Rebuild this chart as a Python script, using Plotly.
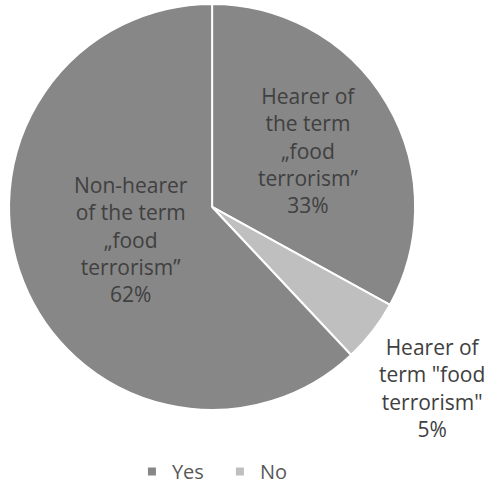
import math
import plotly.graph_objects as go

# Survey answers: who has heard the term "food terrorism"
labels = [
    "Hearer of<br>the term<br>\u201efood<br>terrorism\u201d",
    "Hearer of<br>term \"food<br>terrorism\"",
    "Non-hearer<br>of the term<br>\u201efood<br>terrorism\u201d",
]
values = [33, 5, 62]
groups = ["Yes", "No", "Yes"]
legend_items = ["Yes", "No"]

# where each slice's label goes: distance from centre as a share of the
# radius (None = just outside the rim)
label_radius = [0.55, None, 0.43]

group_colors = {"Yes": "#878787", "No": "#bfbfbf"}
slice_colors = [group_colors[g] for g in groups]

FONT = "Open Sans, Segoe UI, sans-serif"
LABEL_COLOR = "#404040"
W, H = 485, 491
DOMAIN_X = [0.0186, 0.856]
DOMAIN_Y = [0.165, 0.992]

fig = go.Figure()

fig.add_trace(go.Pie(
    labels=labels,
    values=values,
    sort=False,
    direction="clockwise",
    rotation=0,
    marker=dict(colors=slice_colors, line=dict(color="white", width=2)),
    textinfo="none",
    hoverinfo="label+value",
    showlegend=False,
    domain=dict(x=DOMAIN_X, y=DOMAIN_Y),
))

# Data labels at each slice's mid-angle
cx = sum(DOMAIN_X) / 2
cy = sum(DOMAIN_Y) / 2
radius_px = min((DOMAIN_X[1] - DOMAIN_X[0]) * W, (DOMAIN_Y[1] - DOMAIN_Y[0]) * H) / 2
total = sum(values)
cum = 0
for lab, val, frac in zip(labels, values, label_radius):
    theta = 2 * math.pi * (cum + val / 2) / total
    cum += val
    r = radius_px * (1.0 if frac is None else frac)
    pos = dict(
        x=cx + r * math.sin(theta) / W,
        y=cy + r * math.cos(theta) / H,
    )
    if frac is None:
        pos.update(
            xanchor="left" if math.sin(theta) >= 0 else "right",
            yanchor="top" if math.cos(theta) <= 0 else "bottom",
            xshift=4,
        )
    else:
        pos.update(xanchor="center", yanchor="middle")
    fig.add_annotation(
        **pos,
        xref="paper", yref="paper",
        text=f"{lab}<br>{val}%",
        align="center", showarrow=False,
        font=dict(family=FONT, size=21, color=LABEL_COLOR),
    )

# Legend entries for the two answer groups
for name in legend_items:
    fig.add_trace(go.Scatter(
        x=[None], y=[None], mode="markers", name=name,
        marker=dict(symbol="square", size=8, color=group_colors[name]),
    ))

fig.update_layout(
    width=W, height=H,
    margin=dict(l=0, r=0, t=0, b=0, autoexpand=False),
    paper_bgcolor="white", plot_bgcolor="white",
    xaxis=dict(visible=False), yaxis=dict(visible=False),
    showlegend=True,
    legend=dict(
        orientation="h", x=0.272, xanchor="left", y=0.0, yanchor="bottom",
        font=dict(family=FONT, size=20, color="#595959"),
        itemwidth=30, entrywidth=43, entrywidthmode="pixels",
        traceorder="normal",
    ),
)

fig.write_html("out.html")
